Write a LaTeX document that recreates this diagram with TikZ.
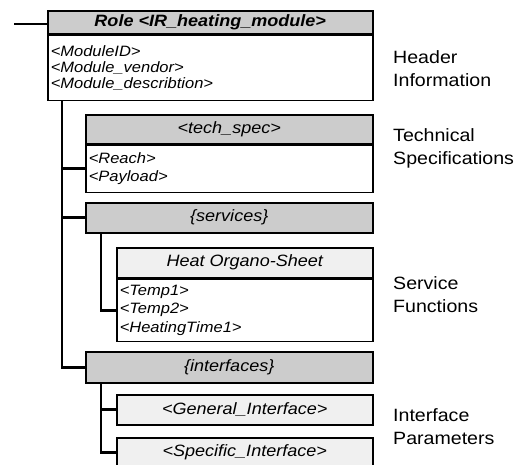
\documentclass[tikz,border=0pt]{standalone}
\usepackage{fontspec}
\setmainfont{Liberation Sans}[FakeStretch=1.1]
\usetikzlibrary{positioning}

\definecolor{headgray}{RGB}{204,204,204}
\definecolor{sheetgray}{RGB}{240,240,240}

\begin{document}
\begin{tikzpicture}[x=1pt,y=-1pt,
  boxline/.style={draw, line width=1.5pt, inner sep=0pt, anchor=north west},
  darkhead/.style={boxline, fill=headgray, minimum height=#1, font=\fontsize{16.4}{18}\selectfont\itshape},
  lighthead/.style={boxline, fill=sheetgray, minimum height=#1, font=\fontsize{16.4}{18}\selectfont\itshape},
  bodybox/.style={boxline, fill=white, inner xsep=3pt, align=left, minimum height=#1, font=\fontsize{15}{18.5}\selectfont\itshape},
  link/.style={line width=2.8pt},
  sidelabel/.style={anchor=west, align=left, inner sep=0pt, font=\fontsize{17.8}{23}\selectfont}
]
\useasboundingbox (0,0) rectangle (525,464);

%Shape: Role box
\node[darkhead=23pt, minimum width=325pt, font=\fontsize{16.4}{18}\selectfont\bfseries\itshape] (role) at (47,10) {Role <IR\_heating\_module>};
\node[bodybox=65pt, text width=319pt, font=\fontsize{15}{16}\selectfont\itshape] (roleb) at (role.south west) {<ModuleID>\\<Module\_vendor>\\<Module\_describtion>};

%Shape: tech_spec box
\node[darkhead=29pt, minimum width=287pt] (tech) at (85,114) {<tech\_spec>};
\node[bodybox=47pt, text width=281pt] (techb) at (tech.south west) {<Reach>\\<Payload>};

%Shape: services box
\node[darkhead=30pt, minimum width=287pt] (svc) at (85,202) {\{services\}};

%Shape: Heat Organo-Sheet box
\node[lighthead=30pt, minimum width=256pt] (heat) at (116,247) {Heat Organo-Sheet};
\node[bodybox=62pt, text width=250pt] (heatb) at (heat.south west) {<Temp1>\\<Temp2>\\<HeatingTime1>};

%Shape: interfaces box
\node[darkhead=31pt, minimum width=287pt] (ifc) at (85,351) {\{interfaces\}};
\node[lighthead=30pt, minimum width=256pt] (gen) at (116,394) {<General\_Interface>};
\node[lighthead=30pt, minimum width=256pt] (spec) at (116,437) {<Specific\_Interface>};

%Straight Lines: tree
\coordinate (entry) at (14,24);
\draw[link] (entry) -- (entry -| role.west);
\draw[link] ([xshift=15pt]roleb.south west) coordinate (trunk) |- (ifc.west);
\draw[link] (trunk |- techb.west) -- (techb.west);
\draw[link] (trunk |- svc.west) -- (svc.west);
\draw[link] ([xshift=16pt]svc.south west) |- (heatb.west);
\draw[link] ([xshift=16pt]ifc.south west) coordinate (ifctrunk) |- (spec.west);
\draw[link] (ifctrunk |- gen.west) -- (gen.west);

% Text Node
\node[sidelabel] (hdrlbl) at (393,68.5) {Header\\Information};
% Text Node
\node[sidelabel] (techlbl) at (393,148.5) {Technical\\Specifications};
% Text Node
\node[sidelabel] (svclbl) at (393,295) {Service\\Functions};
% Text Node
\node[sidelabel] (ifclbl) at (393,426.5) {Interface\\Parameters};

\end{tikzpicture}
\end{document}
